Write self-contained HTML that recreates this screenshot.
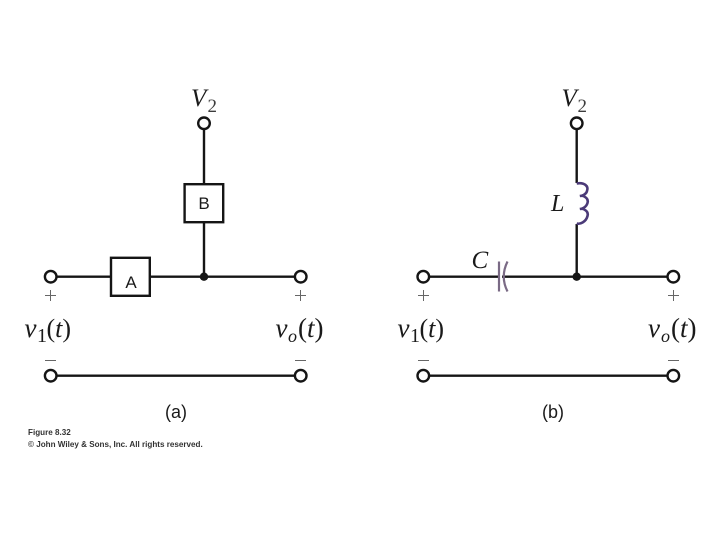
<!DOCTYPE html>
<html>
<head>
<meta charset="utf-8">
<style>
html,body{margin:0;padding:0;background:#fff;width:720px;height:540px;overflow:hidden}
svg{display:block;filter:blur(.3px)}
.s{font-family:"Liberation Serif",serif;fill:#1a1a1a}
.i{font-style:italic}
.h{font-family:"Liberation Sans",sans-serif;fill:#1a1a1a}
.w{fill:none;stroke:#151515;stroke-width:2.4}
.t{fill:#fff;stroke:#151515;stroke-width:2.4}
.g{stroke:#666;stroke-width:1;fill:none}
</style>
</head>
<body>
<svg width="720" height="540" viewBox="0 0 720 540" xmlns="http://www.w3.org/2000/svg">
<!-- Circuit (a) -->
<path class="w" d="M50.7 276.7H300.7M204 123.3V276.7M50.7 375.7H300.7"/>
<rect class="t" x="184.6" y="184.2" width="38.6" height="38"/>
<rect class="t" x="111" y="257.8" width="38.8" height="38"/>
<circle cx="204" cy="276.7" r="4.2" fill="#151515"/>
<circle class="t" cx="204" cy="123.3" r="5.8"/>
<circle class="t" cx="50.7" cy="276.7" r="5.8"/>
<circle class="t" cx="300.7" cy="276.7" r="5.8"/>
<circle class="t" cx="50.7" cy="375.7" r="5.8"/>
<circle class="t" cx="300.7" cy="375.7" r="5.8"/>
<text class="h" x="204" y="209" font-size="17" text-anchor="middle">B</text>
<text class="h" x="131" y="288" font-size="17" text-anchor="middle">A</text>
<text class="s i" x="191" y="106" font-size="25">V</text>
<text class="s" x="207.5" y="112" font-size="19" fill-opacity=".85">2</text>
<path class="g" d="M45 295.5H56M50.5 290V301M295 295.5H306M300.5 290V301M45 360.5H56M295 360.5H306"/>
<text class="s i" x="24.5" y="337" font-size="27">v</text>
<text class="s" x="37" y="342" font-size="20">1</text>
<text class="s" x="46.5" y="337" font-size="26">(<tspan font-style="italic">t</tspan>)</text>
<text class="s i" x="275.5" y="337" font-size="27">v</text>
<text class="s i" x="288" y="342" font-size="18">o</text>
<text class="s" x="298" y="337" font-size="27">(<tspan font-style="italic">t</tspan>)</text>
<text class="h" x="176" y="418" font-size="18" text-anchor="middle">(a)</text>
<text class="h" x="28" y="435" font-size="8.1" font-weight="bold" fill-opacity=".9">Figure 8.32</text>
<text class="h" x="28" y="447" font-size="8.1" font-weight="bold" fill-opacity=".9">© John Wiley &amp; Sons, Inc. All rights reserved.</text>
<!-- Circuit (b) -->
<path class="w" d="M423.3 276.7H498.7M502 276.7H673.3M576.7 123.3V183M576.7 224V276.7M423.3 375.7H673.3"/>
<path d="M499 261.5V291.5" fill="none" stroke="#7a6a85" stroke-width="2.2"/>
<path d="M507.5 261.5Q500 276.7 507.5 291.5" fill="none" stroke="#7a6a85" stroke-width="2.2"/>
<path d="M576.7 183.5C584 182 589 186 587 191C586 195 581 196 580 196C583 195 589 198 587.5 203C586 208 581 209 580 209C583 208 589 211 587.5 216C586 222 580 224.5 576.7 223.5" fill="none" stroke="#4b3a78" stroke-width="2.6"/>
<circle cx="576.7" cy="276.7" r="4.2" fill="#151515"/>
<circle class="t" cx="576.7" cy="123.3" r="5.8"/>
<circle class="t" cx="423.3" cy="276.7" r="5.8"/>
<circle class="t" cx="673.3" cy="276.7" r="5.8"/>
<circle class="t" cx="423.3" cy="375.7" r="5.8"/>
<circle class="t" cx="673.3" cy="375.7" r="5.8"/>
<text class="s i" x="561.5" y="106" font-size="25">V</text>
<text class="s" x="577.5" y="112" font-size="19" fill-opacity=".85">2</text>
<text class="s i" x="551" y="211" font-size="24">L</text>
<text class="s i" x="471.5" y="268" font-size="25">C</text>
<path class="g" d="M418 295.5H429M423.5 290V301M668 295.5H679M673.5 290V301M418 360.5H429M668 360.5H679"/>
<text class="s i" x="397.5" y="337" font-size="27">v</text>
<text class="s" x="410" y="342" font-size="20">1</text>
<text class="s" x="419.5" y="337" font-size="26">(<tspan font-style="italic">t</tspan>)</text>
<text class="s i" x="648" y="337" font-size="27">v</text>
<text class="s i" x="661" y="342" font-size="18">o</text>
<text class="s" x="671" y="337" font-size="27">(<tspan font-style="italic">t</tspan>)</text>
<text class="h" x="553" y="418" font-size="18" text-anchor="middle">(b)</text>
</svg>
</body>
</html>
